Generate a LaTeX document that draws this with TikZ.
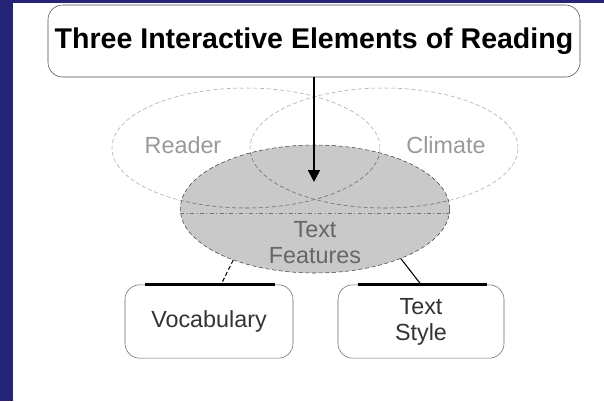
\documentclass[tikz,border=0pt]{standalone}
\usepackage{fontspec}
\setmainfont{Liberation Sans}
\usetikzlibrary{shapes.geometric,arrows.meta}
\definecolor{slideblue}{HTML}{252577}
\definecolor{venngray}{HTML}{C9C9C9}
\tikzset{
  titlebox/.style={draw=black!70,rounded corners=11pt,inner sep=0pt,
    minimum width=399pt,minimum height=54pt,font=\fontsize{21.4}{25}\selectfont\bfseries},
  wordbox/.style={draw=black!60,rounded corners=11pt,inner sep=0pt,align=center,
    minimum height=55pt,text=black!80,font=\fontsize{17.5}{19.5}\selectfont},
  ringstyle/.style={ellipse,draw=black!35,densely dashed,inner sep=0pt,
    minimum width=201pt,minimum height=90pt},
  featstyle/.style={ellipse,draw=black!75,densely dashed,fill=venngray,inner sep=0pt,
    minimum width=202pt,minimum height=96pt},
  softtext/.style={text=black!40,font=\fontsize{17.5}{19.5}\selectfont},
  midtext/.style={text=black!60,align=center,font=\fontsize{17.5}{19.5}\selectfont}
}
\begin{document}
\begin{tikzpicture}[x=0.75pt,y=-0.75pt]
  \fill[slideblue] (0,0) rectangle (604,401);
  \fill[white] (13,3) rectangle (604,401);
  \useasboundingbox (0,0) rectangle (604,401);
  % heading
  \node[titlebox] (title) at (314,41) {Three Interactive Elements of Reading};
  % the three overlapping elements
  \node[featstyle] (features) at (315,209) {};
  \node[ringstyle] (reader) at (246,148) {};
  \node[ringstyle] (climate) at (384,148) {};
  \begin{scope}
    \clip (315,209) ellipse (135 and 64);
    \node[ringstyle,draw=black!55] (readerin) at (246,148) {};
    \node[ringstyle,draw=black!55] (climatein) at (384,148) {};
    \draw[black!55,dash dot] ([yshift=-3pt]features.west) -- ([yshift=-3pt]features.east);
  \end{scope}
  \node[softtext] (readerlbl) at (183,145) {Reader};
  \node[softtext] (climatelbl) at (446,145) {Climate};
  \node[midtext] (featlbl) at (315,243) {Text\\Features};
  \coordinate (arrowend) at (314,182);
  \draw[line width=1.2pt,-{Triangle[width=9pt,length=9pt]}] (title) -- (arrowend);
  % parts of text features
  \node[wordbox,minimum width=126pt] (vocab) at (209,321.5) {Vocabulary};
  \node[wordbox,minimum width=124.5pt] (textstyle) at (421,321.5) {Text\\Style};
  \draw[line width=2pt] ([xshift=15pt]vocab.north west) -- ([xshift=-14pt]vocab.north east);
  \draw[line width=2pt] ([xshift=15pt]textstyle.north west) -- ([xshift=-13pt]textstyle.north east);
  \draw[thick,densely dashed] (features.212) -- ([xshift=9pt]vocab.north);
  \draw[thick] (features.-30) -- (textstyle.north);
\end{tikzpicture}
\end{document}
